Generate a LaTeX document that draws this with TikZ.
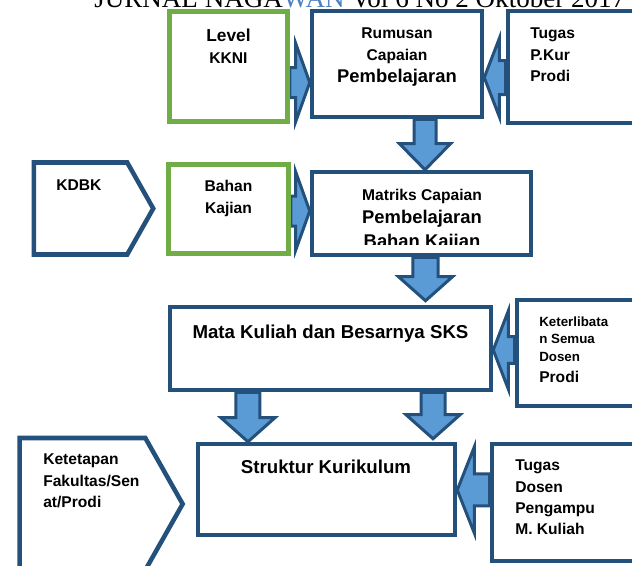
\documentclass[tikz,border=0pt]{standalone}
\usepackage{fontspec}
\setmainfont{Liberation Sans}
\newfontfamily\hdrfont{Liberation Serif}
\usepackage{tikz}
\usetikzlibrary{calc,shapes.symbols}
\definecolor{kotak}{HTML}{24507C}
\definecolor{hijau}{HTML}{70AD47}
\definecolor{panah}{HTML}{5B9BD5}
\definecolor{tautan}{HTML}{4F81BD}
\pgfdeclarelayer{bg}
\pgfsetlayers{bg,main}
\newcommand{\ukuran}[2]{\fontsize{#1}{#2}\selectfont}
% block arrow: from, to, half shaft, half head, head length
\newcommand{\fatarrow}[5]{%
  \draw[panahblok] ($(#1)!#3!90:(#2)$)
    -- ($($(#2)!#5!(#1)$)!#3!90:(#2)$)
    -- ($($(#2)!#5!(#1)$)!#4!90:(#2)$)
    -- (#2)
    -- ($($(#2)!#5!(#1)$)!#4!-90:(#2)$)
    -- ($($(#2)!#5!(#1)$)!#3!-90:(#2)$)
    -- ($(#1)!#3!-90:(#2)$) -- cycle;}
\tikzset{
  kotakbiru/.style={draw=kotak, line width=3.4pt, fill=white, inner sep=0pt},
  kotakhijau/.style={draw=hijau, line width=3.4pt, fill=white, inner sep=0pt},
  sinyal/.style={signal, signal to=east, signal pointer angle=121,
    draw=kotak, line width=3.4pt, fill=white, inner sep=0pt},
  teks/.style={inner sep=0pt, align=center, anchor=north},
  tekskiri/.style={inner sep=0pt, align=left, anchor=north west},
  panahblok/.style={draw=kotak, fill=panah, line width=2.25pt, line join=miter},
}

\begin{document}
\begin{tikzpicture}[x=0.75pt, y=-0.75pt]
    \useasboundingbox (0,0) rectangle (632,565);
    \clip (0,0) rectangle (632,565);
    % header
    \node[anchor=base west, inner sep=0pt, font=\hdrfont\ukuran{20.3}{24}] (hdr) at (94,7)
        {JURNAL NAGA\textcolor{tautan}{WAN} Vol 6 No 2 Oktober 2017};
    % boxes
    \node[kotakhijau, minimum width=88.5pt, minimum height=82.5pt] (lvl) at (228.5,66.5) {};
    \node[kotakbiru, minimum width=127.5pt, minimum height=79.5pt] (rum) at (397,64) {};
    \node[kotakbiru, minimum width=102.75pt, minimum height=84pt] (tpk) at (576.5,67) {};
    \node[sinyal, minimum width=89.6pt, minimum height=69pt] (kdbk) at (80.5,208.5) {};
    \node[kotakhijau, minimum width=90pt, minimum height=66.75pt] (bhn) at (228.5,209) {};
    \node[kotakbiru, minimum width=164.25pt, minimum height=62.25pt] (mtx) at (421.5,213.5) {};
    \node[kotakbiru, minimum width=240.75pt, minimum height=62.25pt] (mk) at (330.5,348.5) {};
    \node[kotakbiru, minimum width=96pt, minimum height=79.5pt] (ket) at (581,353) {};
    \node[sinyal, minimum width=122.25pt, minimum height=99pt] (ktp) at (82.5,504) {};
    \node[kotakbiru, minimum width=192.75pt, minimum height=68.25pt] (sk) at (326.5,489.5) {};
    \node[kotakbiru, minimum width=114.75pt, minimum height=87.75pt] (tdp) at (568.5,502.5) {};
    % arrow ends
    \coordinate (a1s) at ([yshift=-12pt]lvl.east);
    \coordinate (a1e) at (rum.west |- a1s);
    \coordinate (a2s) at ([yshift=-7.9pt]tpk.west);
    \coordinate (a2e) at (rum.east |- a2s);
    \coordinate (a3s) at ([xshift=21pt]rum.south);
    \coordinate (a3e) at (a3s |- mtx.north);
    \coordinate (a4s) at ([yshift=-1.5pt]bhn.east);
    \coordinate (a4e) at (mtx.west |- a4s);
    \coordinate (a5s) at ([xshift=3pt]mtx.south);
    \coordinate (a5e) at ($(a5s |- mk.north)+(0,-4)$);
    \coordinate (a6s) at ([yshift=2.25pt]ket.west);
    \coordinate (a6e) at (mk.east |- a6s);
    \coordinate (a7s) at ([xshift=-61.9pt]mk.south);
    \coordinate (a7e) at (a7s |- sk.north);
    \coordinate (a8s) at ([xshift=76.9pt]mk.south);
    \coordinate (a8e) at ($(a8s |- sk.north)+(0,-3)$);
    \coordinate (a9s) at ([yshift=9.4pt]tdp.west);
    \coordinate (a9e) at (sk.east |- a9s);
    % arrows
    \begin{pgfonlayer}{bg}
        \fatarrow{a1s}{a1e}{11.25pt}{29.25pt}{10.5pt}
        \fatarrow{a2s}{a2e}{12.75pt}{29.25pt}{11.25pt}
        \fatarrow{a3s}{a3e}{8.25pt}{19.1pt}{19.5pt}
        \fatarrow{a4s}{a4e}{11.25pt}{29.25pt}{10.5pt}
        \fatarrow{a5s}{a5e}{9.4pt}{20.25pt}{18pt}
        \fatarrow{a6s}{a6e}{10.1pt}{29.25pt}{11.25pt}
        \fatarrow{a7s}{a7e}{9pt}{20.25pt}{18pt}
        \fatarrow{a8s}{a8e}{9pt}{20.25pt}{18pt}
        \fatarrow{a9s}{a9e}{12pt}{32.25pt}{12.75pt}
    \end{pgfonlayer}
    % texts
    \node[teks, font=\bfseries\ukuran{13}{16.5}] (lvlt) at (228.5,28.5)
        {Level\\{\ukuran{11.7}{16.5}KKNI}};
    \node[teks, font=\bfseries\ukuran{11.7}{16.5}] (rumt) at (397,27.8)
        {Rumusan\\Capaian\\{\ukuran{13.8}{16.5}Pembelajaran}};
    \node[tekskiri, font=\bfseries\ukuran{11.7}{16.1}] (tpkt) at (530,27.8)
        {Tugas\\P.Kur\\Prodi};
    \node[tekskiri, font=\bfseries\ukuran{11.7}{16}] (kdbkt) at (56,179.8) {KDBK};
    \node[teks, font=\bfseries\ukuran{11.7}{16.5}] (bhnt) at (228.5,179.8)
        {Bahan\\Kajian};
    \begin{scope}
        \clip (mtx.north west) rectangle ([yshift=9.75pt]mtx.south east);
        \node[teks, font=\bfseries\ukuran{11.7}{17.6}] (mtxt) at (422,188.8)
            {Matriks Capaian\\{\ukuran{13.8}{17.6}Pembelajaran}\\{\ukuran{13.8}{17.6}Bahan Kajian}};
    \end{scope}
    \node[teks, font=\bfseries\ukuran{14}{17}] (mkt) at (330.5,324.6)
        {Mata Kuliah dan Besarnya SKS};
    \node[tekskiri, font=\bfseries\ukuran{10}{13}] (kett) at (539,316.4)
        {Keterlibata\\n Semua\\Dosen\\[2.8pt]{\ukuran{11.7}{13}Prodi}};
    \node[tekskiri, font=\bfseries\ukuran{11.7}{16.1}] (ktpt) at (43,453.8)
        {Ketetapan\\Fakultas/Sen\\at/Prodi};
    \node[teks, font=\bfseries\ukuran{14}{17}] (skt) at (326,459.6)
        {Struktur Kurikulum};
    \node[tekskiri, font=\bfseries\ukuran{11.7}{16}] (tdpt) at (515,459.8)
        {Tugas\\Dosen\\Pengampu\\M. Kuliah};
\end{tikzpicture}
\end{document}
